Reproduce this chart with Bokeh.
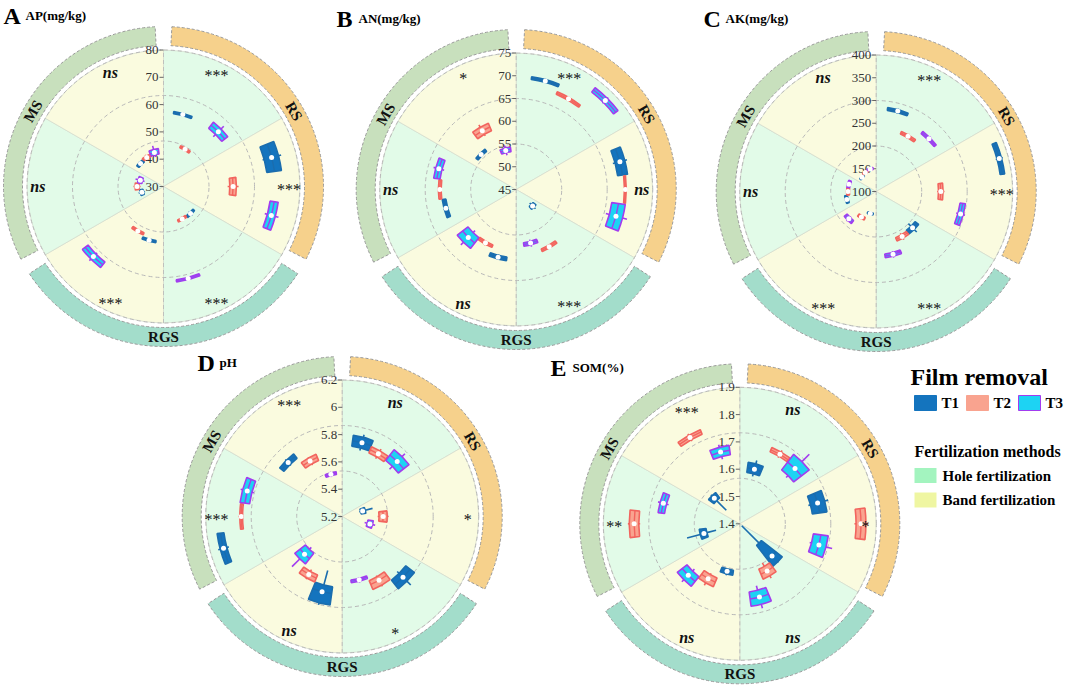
import numpy as np
from bokeh.plotting import figure
from bokeh.models import ColumnDataSource
from bokeh.embed import file_html
from bokeh.resources import INLINE
from bokeh.core.properties import value

# ---------------- data ----------------
sectors = ["RS-Hole", "RS-Band", "RGS-Hole", "RGS-Band", "MS-Hole", "MS-Band"]
treatments = ["T1", "T2", "T3"]

panel_letters = ["A", "B", "C", "D", "E"]
panel_titles = ["AP(mg/kg)", "AN(mg/kg)", "AK(mg/kg)", "pH", "SOM(%)"]
axis_lo = [30, 45, 100, 5.2, 1.4]
axis_hi = [80, 75, 400, 6.2, 1.9]
tick_values = [[30, 40, 50, 60, 70, 80],
               [45, 50, 55, 60, 65, 70, 75],
               [100, 150, 200, 250, 300, 350, 400],
               [5.2, 5.4, 5.6, 5.8, 6.0, 6.2],
               [1.4, 1.5, 1.6, 1.7, 1.8, 1.9]]
tick_labels = [["30", "40", "50", "60", "70", "80"],
               ["45", "50", "55", "60", "65", "70", "75"],
               ["100", "150", "200", "250", "300", "350", "400"],
               ["5.2", "5.4", "5.6", "5.8", "6", "6.2"],
               ["1.4", "1.5", "1.6", "1.7", "1.8", "1.9"]]

# order: for each sector (RS-Hole, RS-Band, RGS-Hole, RGS-Band, MS-Hole, MS-Band) -> T1, T2, T3
ap_lo  = [56.5, 45.0, 55.8, 67.6, 53.5, 68.4, 43.0, 42.8, 64.2, 49.6, 48.0, 64.4, 37.0, 38.4, 37.2, 41.0, 41.2, 41.2]
ap_q1  = [56.9, 45.4, 57.0, 68.2, 54.3, 69.4, 43.6, 43.3, 64.5, 50.0, 48.4, 65.0, 37.6, 39.0, 38.0, 41.4, 41.8, 42.0]
ap_med = [57.3, 45.8, 58.4, 71.0, 55.5, 70.9, 44.0, 43.7, 64.9, 50.4, 48.8, 66.3, 38.2, 39.7, 38.8, 41.9, 42.3, 42.9]
ap_q3  = [57.7, 46.2, 59.8, 73.6, 56.7, 72.4, 44.4, 44.1, 65.3, 50.8, 49.2, 67.6, 38.8, 40.4, 39.6, 42.4, 42.8, 44.0]
ap_hi  = [58.1, 46.6, 61.2, 74.6, 57.5, 73.6, 45.0, 44.6, 65.6, 51.2, 49.6, 68.4, 39.4, 41.0, 40.6, 42.8, 43.4, 45.4]
ap_sig = ["***", "***", "***", "***", "ns", "ns"]

an_lo  = [69.2, 67.5, 71.8, 67.0, 68.5, 65.4, 49.2, 59.0, 56.4, 59.8, 58.0, 57.8, 60.4, 61.3, 61.4, 55.4, 58.6, 52.8]
an_q1  = [69.4, 67.7, 72.1, 67.5, 68.8, 66.2, 49.7, 59.2, 56.8, 60.0, 58.2, 58.4, 60.6, 61.5, 61.9, 55.6, 59.0, 53.4]
an_med = [69.7, 68.0, 72.7, 68.6, 69.0, 67.7, 50.1, 59.5, 57.2, 60.4, 58.5, 59.9, 61.0, 61.8, 62.6, 55.9, 59.9, 53.9]
an_q3  = [70.0, 68.3, 73.3, 69.7, 69.2, 69.2, 50.5, 59.8, 57.6, 60.8, 58.8, 61.4, 61.4, 62.1, 63.3, 56.2, 60.8, 54.4]
an_hi  = [70.2, 68.5, 73.6, 70.2, 69.5, 70.2, 51.0, 60.0, 58.0, 61.0, 59.1, 62.2, 61.6, 62.3, 63.8, 56.4, 61.4, 55.0]
an_sig = ["***", "ns", "***", "ns", "ns", "*"]

ak_lo  = [277, 234, 258, 372, 234, 282, 200, 206, 236, 146, 160, 178, 162, 157, 157, 140, 144, 147]
ak_q1  = [280, 237, 261, 375, 237, 286, 208, 210, 239, 148, 162, 181, 164, 159, 159, 142, 146, 149]
ak_med = [283, 240, 264, 380, 242, 292, 213, 214, 243, 150, 165, 185, 167, 162, 162, 144, 148, 151]
ak_q3  = [286, 243, 267, 385, 247, 298, 218, 218, 247, 152, 168, 189, 170, 165, 165, 146, 150, 153]
ak_hi  = [289, 246, 270, 388, 250, 302, 226, 222, 250, 154, 170, 192, 172, 167, 167, 148, 152, 155]
ak_sig = ["***", "***", "***", "***", "ns", "ns"]

ph_lo  = [5.70, 5.69, 5.69, 5.33, 5.46, 5.37, 5.77, 5.70, 5.66, 5.61, 5.65, 5.52, 6.06, 5.92, 5.87, 5.73, 5.635, 5.50]
ph_q1  = [5.72, 5.705, 5.72, 5.34, 5.47, 5.39, 5.79, 5.71, 5.67, 5.72, 5.665, 5.54, 6.075, 5.93, 5.885, 5.74, 5.645, 5.51]
ph_med = [5.76, 5.73, 5.77, 5.355, 5.50, 5.41, 5.83, 5.74, 5.68, 5.77, 5.69, 5.59, 6.10, 5.94, 5.92, 5.76, 5.67, 5.52]
ph_q3  = [5.80, 5.755, 5.82, 5.375, 5.53, 5.43, 5.87, 5.78, 5.69, 5.855, 5.72, 5.64, 6.125, 5.95, 5.955, 5.78, 5.695, 5.53]
ph_hi  = [5.82, 5.77, 5.85, 5.43, 5.54, 5.45, 5.91, 5.79, 5.70, 5.87, 5.73, 5.72, 6.14, 5.96, 5.97, 5.79, 5.70, 5.54]
ph_sig = ["ns", "*", "*", "ns", "***", "***"]

som_lo  = [1.58, 1.68, 1.64, 1.66, 1.82, 1.665, 1.41, 1.565, 1.635, 1.57, 1.61, 1.635, 1.49, 1.765, 1.67, 1.47, 1.75, 1.645]
som_q1  = [1.59, 1.686, 1.65, 1.668, 1.826, 1.672, 1.50, 1.58, 1.652, 1.572, 1.615, 1.645, 1.525, 1.77, 1.678, 1.52, 1.756, 1.655]
som_med = [1.607, 1.694, 1.686, 1.695, 1.844, 1.70, 1.567, 1.60, 1.678, 1.58, 1.632, 1.667, 1.536, 1.787, 1.69, 1.532, 1.765, 1.672]
som_q3  = [1.627, 1.703, 1.722, 1.722, 1.862, 1.727, 1.597, 1.62, 1.705, 1.59, 1.65, 1.69, 1.55, 1.805, 1.702, 1.545, 1.774, 1.69]
som_hi  = [1.64, 1.71, 1.76, 1.735, 1.87, 1.75, 1.60, 1.63, 1.72, 1.595, 1.66, 1.70, 1.60, 1.81, 1.71, 1.55, 1.78, 1.70]
som_sig = ["ns", "*", "ns", "ns", "**", "***"]

panel_data = [
    (ap_lo, ap_q1, ap_med, ap_q3, ap_hi, ap_sig),
    (an_lo, an_q1, an_med, an_q3, an_hi, an_sig),
    (ak_lo, ak_q1, ak_med, ak_q3, ak_hi, ak_sig),
    (ph_lo, ph_q1, ph_med, ph_q3, ph_hi, ph_sig),
    (som_lo, som_q1, som_med, som_q3, som_hi, som_sig),
]

ring_names = ["RS", "RGS", "MS"]

# ---------------- layout / style ----------------
W, H = 1065, 687
SERIF = value("Liberation Serif")
R = 136.5            # sector radius (px)
BAND_IN, BAND_OUT = 141, 160
panel_centers_page = [(163, 186), (515.7, 189), (875.7, 191), (341.7, 516), (739.3, 523.3)]
title_pos_page = [(3, 15), (336, 18), (703, 18), (197, 362), (550, 367)]

hole_bg, band_bg = "#E2FBE8", "#FAFBDF"
ring_colors = ["#F6D18C", "#A3DDCB", "#C8E0BD"]
box_fill = ["#1474BE", "#F9A38F", "#1DD3F3"]
box_line = ["#1B6DAE", "#F2645E", "#A23CEF"]
grid_col = "#B8B8B8"


def to_data(px, py):
    return px, H - py


def ang(theta_deg):
    # clockwise-from-top degrees -> bokeh radians (ccw from +x)
    return np.radians(90 - np.asarray(theta_deg, float))


p = figure(width=W, height=H, x_range=(0, W), y_range=(0, H),
           output_backend="svg", toolbar_location=None,
           x_axis_type=None, y_axis_type=None, min_border=0)
p.grid.visible = False
p.outline_line_color = None
p.background_fill_color = "white"

for k in range(5):
    lo, q1, med, q3, hi, sig = panel_data[k]
    cx, cy = to_data(*panel_centers_page[k])
    vmin, vmax = axis_lo[k], axis_hi[k]

    def rad(v):
        return (np.asarray(v, float) - vmin) / (vmax - vmin) * R

    # outer rings
    ring_start = np.array([0, 120, 240]) + 3
    ring_end = np.array([120, 240, 360]) - 3
    p.annular_wedge(x=cx, y=cy, inner_radius=BAND_IN, outer_radius=BAND_OUT,
                    start_angle=ang(ring_start), end_angle=ang(ring_end), direction="clock",
                    fill_color=ring_colors, line_color="#9A9A9A", line_dash="3 2", line_width=1)
    ring_mid = np.array([60, 180, 300])
    rx = cx + (BAND_IN + BAND_OUT) / 2 * np.sin(np.radians(ring_mid))
    ry = cy + (BAND_IN + BAND_OUT) / 2 * np.cos(np.radians(ring_mid))
    p.text(x=rx, y=ry, text=ring_names, angle=[-np.pi / 3, 0, np.pi / 3],
           text_font=SERIF, text_font_style="bold", text_font_size="15px",
           text_align="center", text_baseline="middle", text_color="#111111")

    # sectors
    s_start = np.arange(6) * 60
    p.wedge(x=cx, y=cy, radius=R, start_angle=ang(s_start), end_angle=ang(s_start + 60),
            direction="clock", fill_color=[hole_bg, band_bg] * 3,
            line_color="#D2DACB", line_width=0.7)
    # grid circles
    p.arc(x=cx, y=cy, radius=[R / 3, 2 * R / 3, R], start_angle=0, end_angle=2 * np.pi,
          line_color=grid_col, line_dash="4 3", line_width=1)
    p.segment(x0=cx, y0=cy - R, x1=cx, y1=cy + R, line_color=grid_col,
              line_dash="4 3", line_width=0.8)

    # radial axis ticks / labels
    tr = rad(tick_values[k])
    p.segment(x0=cx - 4, y0=cy + tr, x1=cx, y1=cy + tr, line_color="#666666", line_width=1)
    p.text(x=cx - 5, y=cy + tr, text=tick_labels[k], text_font=SERIF,
           text_font_size="13px", text_align="right", text_baseline="middle",
           text_color="#333333")

    # boxes
    idx = np.arange(18)
    th = 60 * (idx // 3) + 15 + 15 * (idx % 3)
    half = 7.2
    tcol = idx % 3
    fills = [box_fill[t] for t in tcol]
    lines = [box_line[t] for t in tcol]
    s = np.sin(np.radians(th))
    c = np.cos(np.radians(th))
    r_lo, r_q1, r_med, r_q3, r_hi = rad(lo), rad(q1), rad(med), rad(q3), rad(hi)
    src = ColumnDataSource(dict(
        xw0=np.concatenate([cx + r_lo * s, cx + r_q3 * s]),
        yw0=np.concatenate([cy + r_lo * c, cy + r_q3 * c]),
        xw1=np.concatenate([cx + r_q1 * s, cx + r_hi * s]),
        yw1=np.concatenate([cy + r_q1 * c, cy + r_hi * c]),
        col=lines + lines))
    p.segment(x0="xw0", y0="yw0", x1="xw1", y1="yw1", line_color="col",
              line_width=1.6, source=src)
    bsrc = ColumnDataSource(dict(
        inner=r_q1, outer=r_q3, sa=ang(th - half), ea=ang(th + half),
        fill=fills, line=lines, rmed=r_med,
        mx=cx + r_med * s, my=cy + r_med * c,
        treat=[treatments[t] for t in tcol], sector=[sectors[i // 3] for i in idx]))
    p.annular_wedge(x=cx, y=cy, inner_radius="inner", outer_radius="outer",
                    start_angle="sa", end_angle="ea", direction="clock",
                    fill_color="fill", line_color="line", line_width=1.6, source=bsrc)
    p.arc(x=cx, y=cy, radius="rmed", start_angle="sa", end_angle="ea", direction="clock",
          line_color="line", line_width=1.4, source=bsrc)
    p.scatter(x="mx", y="my", size=5, fill_color="white", line_color=None, source=bsrc)

    # significance labels
    sig_ang = np.array([25, 90, 155, 205, 270, 335])
    sx = cx + 0.92 * R * np.sin(np.radians(sig_ang))
    sy = cy + 0.92 * R * np.cos(np.radians(sig_ang))
    for j in range(6):
        is_ns = sig[j] == "ns"
        p.text(x=[sx[j]], y=[sy[j] - (0 if is_ns else 3)], text=[sig[j]], text_font=SERIF,
               text_font_style="bold italic" if is_ns else "normal",
               text_font_size="16px",
               text_align="center", text_baseline="middle", text_color="#111111")

    # title
    tx, ty = to_data(*title_pos_page[k])
    p.text(x=[tx], y=[ty], text=[panel_letters[k]], text_font=SERIF, text_font_style="bold",
           text_font_size="24px", text_align="left", text_baseline="middle", text_color="black")
    p.text(x=[tx + 22], y=[ty], text=[panel_titles[k]], text_font=SERIF, text_font_style="bold",
           text_font_size="13px", text_align="left", text_baseline="middle", text_color="black")

# ---------------- legend ----------------
lx, ly = to_data(910, 376)
p.text(x=[lx], y=[ly], text=["Film removal"], text_font=SERIF, text_font_style="bold",
       text_font_size="24px", text_align="left", text_baseline="middle", text_color="black")
sw_x_page = [914, 966, 1018]
for t in range(3):
    x0, y0 = to_data(sw_x_page[t], 395)
    x1, y1 = to_data(sw_x_page[t] + 22, 410)
    p.quad(left=x0, right=x1, top=y0, bottom=y1, fill_color=box_fill[t],
           line_color=box_line[t] if t == 2 else box_fill[t], line_width=1)
    tx, ty = to_data(sw_x_page[t] + 27, 402.5)
    p.text(x=[tx], y=[ty], text=[treatments[t]], text_font=SERIF, text_font_style="bold",
           text_font_size="15px", text_align="left", text_baseline="middle", text_color="black")

fx, fy = to_data(914, 451)
p.text(x=[fx], y=[fy], text=["Fertilization methods"], text_font=SERIF, text_font_style="bold",
       text_font_size="16px", text_align="left", text_baseline="middle", text_color="black")
fert_labels = ["Hole fertilization", "Band fertilization"]
fert_colors = ["#A3F4BF", "#EFF6A2"]
fert_y_page = [475, 499.5]
for j in range(2):
    x0, y0 = to_data(914, fert_y_page[j] - 7.5)
    x1, y1 = to_data(936, fert_y_page[j] + 7.5)
    p.quad(left=x0, right=x1, top=y0, bottom=y1, fill_color=fert_colors[j], line_color=None)
    tx, ty = to_data(942, fert_y_page[j])
    p.text(x=[tx], y=[ty], text=[fert_labels[j]], text_font=SERIF, text_font_style="bold",
           text_font_size="15px", text_align="left", text_baseline="middle", text_color="black")

open("out.html", "w").write(file_html(p, INLINE))
